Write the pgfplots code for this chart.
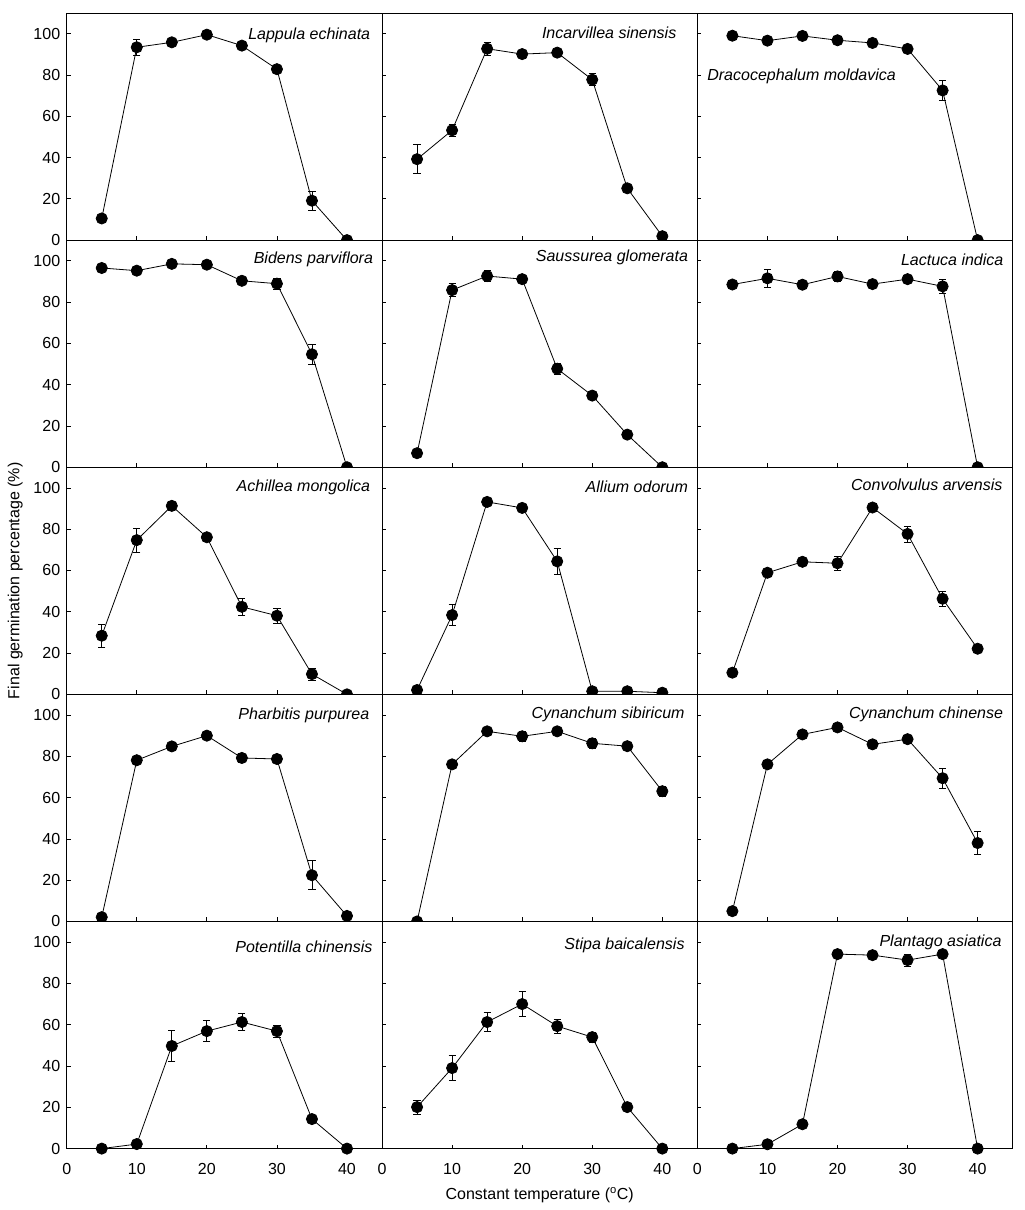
\documentclass[border=0pt]{standalone}
\usepackage{fontspec}
\setmainfont{Liberation Sans}
\usepackage{pgfplots}
\pgfplotsset{compat=1.18}
\usepgfplotslibrary{groupplots}

\pgfplotsset{
  germ/.style={black, line width=0.8pt, mark=*, mark size=5.6pt,
    mark options={solid, fill=black},
    error bars/.cd, y dir=both, y explicit,
    error bar style={line width=0.7pt, black},
    error mark options={rotate=90, mark size=3.6pt, line width=0.7pt, black}},
}
\newcommand{\species}[3]{\node[anchor=east, inner sep=0pt,
  font=\fontsize{16}{18}\selectfont\itshape] at (rel axis cs:#1,#2) {#3};}

\begin{document}
\begin{tikzpicture}
\begin{groupplot}[
  group style={group size=3 by 5, horizontal sep=0pt, vertical sep=0pt,
    xticklabels at=edge bottom, yticklabels at=edge left},
  width=315.3pt, height=227.1pt, scale only axis,
  xmin=0, xmax=45, ymin=0, ymax=110,
  xtick={0,10,20,30,40}, ytick={0,20,40,60,80,100},
  tick align=inside, tick pos=left, major tick length=4pt,
  tick style={black, line width=0.7pt},
  axis line style={black, line width=0.9pt},
  axis background/.style={fill=white},
  /pgf/number format/assume math mode=true,
  tick label style={font=\fontsize{16}{18}\selectfont},
  xticklabel style={yshift=-11pt},
  yticklabel style={xshift=-3pt},
  label style={font=\fontsize{16}{18}\selectfont},
]

% row 1
\nextgroupplot
\addplot[germ] table[x index=0, y index=1, y error index=2] {
5 10.5 0
10 93.4 4
15 95.8 0
20 99.5 0
25 94.2 0
30 82.8 0
35 19.1 4.7
40 0 0
};
\species{0.963}{0.903}{Lappula echinata}

\nextgroupplot
\addplot[germ] table[x index=0, y index=1, y error index=2] {
5 39.2 7
10 53.2 2.8
15 92.7 3
20 90.1 2
25 90.8 1
30 77.7 2.9
35 25.1 1
40 1.9 0
};
\species{0.934}{0.915}{Incarvillea sinensis}

\nextgroupplot
\addplot[germ] table[x index=0, y index=1, y error index=2] {
5 99.0 0
10 96.6 0
15 98.9 0
20 96.8 0
25 95.5 0
30 92.6 0
35 72.5 4.8
40 0 0
};
\node[anchor=west, inner sep=0pt, font=\fontsize{16}{18}\selectfont\itshape]
  at (rel axis cs:0.031,0.722) {Dracocephalum moldavica};

% row 2
\nextgroupplot
\addplot[germ] table[x index=0, y index=1, y error index=2] {
5 96.5 1.5
10 95.2 1.5
15 98.5 0
20 98.1 0
25 90.3 1
30 88.9 2.7
35 54.7 5
40 0 0
};
\species{0.972}{0.916}{Bidens parviflora}

\nextgroupplot
\addplot[germ] table[x index=0, y index=1, y error index=2] {
5 6.8 0
10 85.8 3.1
15 92.6 2.7
20 91.1 0
25 47.7 2.7
30 34.7 2
35 15.8 0
40 0 0
};
\species{0.971}{0.922}{Saussurea glomerata}

\nextgroupplot
\addplot[germ] table[x index=0, y index=1, y error index=2] {
5 88.5 1.5
10 91.5 4.2
15 88.4 2
20 92.4 2.5
25 88.7 0
30 91.1 2
35 87.6 3.5
40 0 0
};
\species{0.971}{0.913}{Lactuca indica}

% row 3
\nextgroupplot[ylabel={Final germination percentage (\%)},
  ylabel style={at={(axis description cs:-0.163,0.5)}, anchor=center}]
\addplot[germ] table[x index=0, y index=1, y error index=2] {
5 28.4 5.5
10 74.7 5.9
15 91.3 2
20 76.1 2
25 42.4 4
30 38.1 3.6
35 9.8 2.8
40 0 0
};
\species{0.963}{0.91}{Achillea mongolica}

\nextgroupplot
\addplot[germ] table[x index=0, y index=1, y error index=2] {
5 2.1 0
10 38.4 5.2
15 93.2 0
20 90.3 0
25 64.4 6.1
30 1.5 0
35 1.5 0
40 0.8 0
};
\species{0.971}{0.916}{Allium odorum}

\nextgroupplot
\addplot[germ] table[x index=0, y index=1, y error index=2] {
5 10.5 0
10 58.9 0
15 64.2 0
20 63.5 3.4
25 90.5 0
30 77.7 3.9
35 46.3 3.5
40 22.1 1.5
};
\species{0.968}{0.922}{Convolvulus arvensis}

% row 4
\nextgroupplot
\addplot[germ] table[x index=0, y index=1, y error index=2] {
5 2.1 0
10 78.1 0
15 84.8 0
20 90 0
25 79.2 2
30 78.7 0
35 22.4 7
40 2.7 0
};
\species{0.96}{0.909}{Pharbitis purpurea}

\nextgroupplot
\addplot[germ] table[x index=0, y index=1, y error index=2] {
5 0 0
10 76.1 0
15 92.1 0
20 89.7 2.5
25 92.1 1.5
30 86.3 2.5
35 84.9 0
40 63.1 2.5
};
\species{0.96}{0.91}{Cynanchum sibiricum}

\nextgroupplot
\addplot[germ] table[x index=0, y index=1, y error index=2] {
5 5 0
10 76.1 0
15 90.6 2
20 94 0
25 85.8 0
30 88.3 0
35 69.4 5
40 38 5.5
};
\species{0.97}{0.91}{Cynanchum chinense}

% row 5
\nextgroupplot
\addplot[germ] table[x index=0, y index=1, y error index=2] {
5 0 0
10 2.2 0
15 49.7 7.5
20 56.9 5
25 61.3 4
30 56.9 3
35 14.3 0
40 0 0
};
\species{0.97}{0.89}{Potentilla chinensis}

\nextgroupplot[xlabel={Constant temperature (\textsuperscript{o}C)},
  xlabel style={at={(axis description cs:0.5,-0.206)}, anchor=center}]
\addplot[germ] table[x index=0, y index=1, y error index=2] {
5 20.1 3.5
10 39 6
15 61.3 4.5
20 70 6
25 59.3 3.5
30 54 2.5
35 20.1 0
40 0 0
};
\species{0.96}{0.895}{Stipa baicalensis}

\nextgroupplot
\addplot[germ] table[x index=0, y index=1, y error index=2] {
5 0 0
10 2.1 0
15 11.8 0
20 94.2 0
25 93.7 0
30 91.3 3
35 94.2 0
40 0 0
};
\species{0.965}{0.91}{Plantago asiatica}

\end{groupplot}
\path (group c1r1.north west) ++(-66.7pt,13pt);
\path (group c3r5.south east) ++(11.4pt,-61.4pt);
\end{tikzpicture}
\end{document}
